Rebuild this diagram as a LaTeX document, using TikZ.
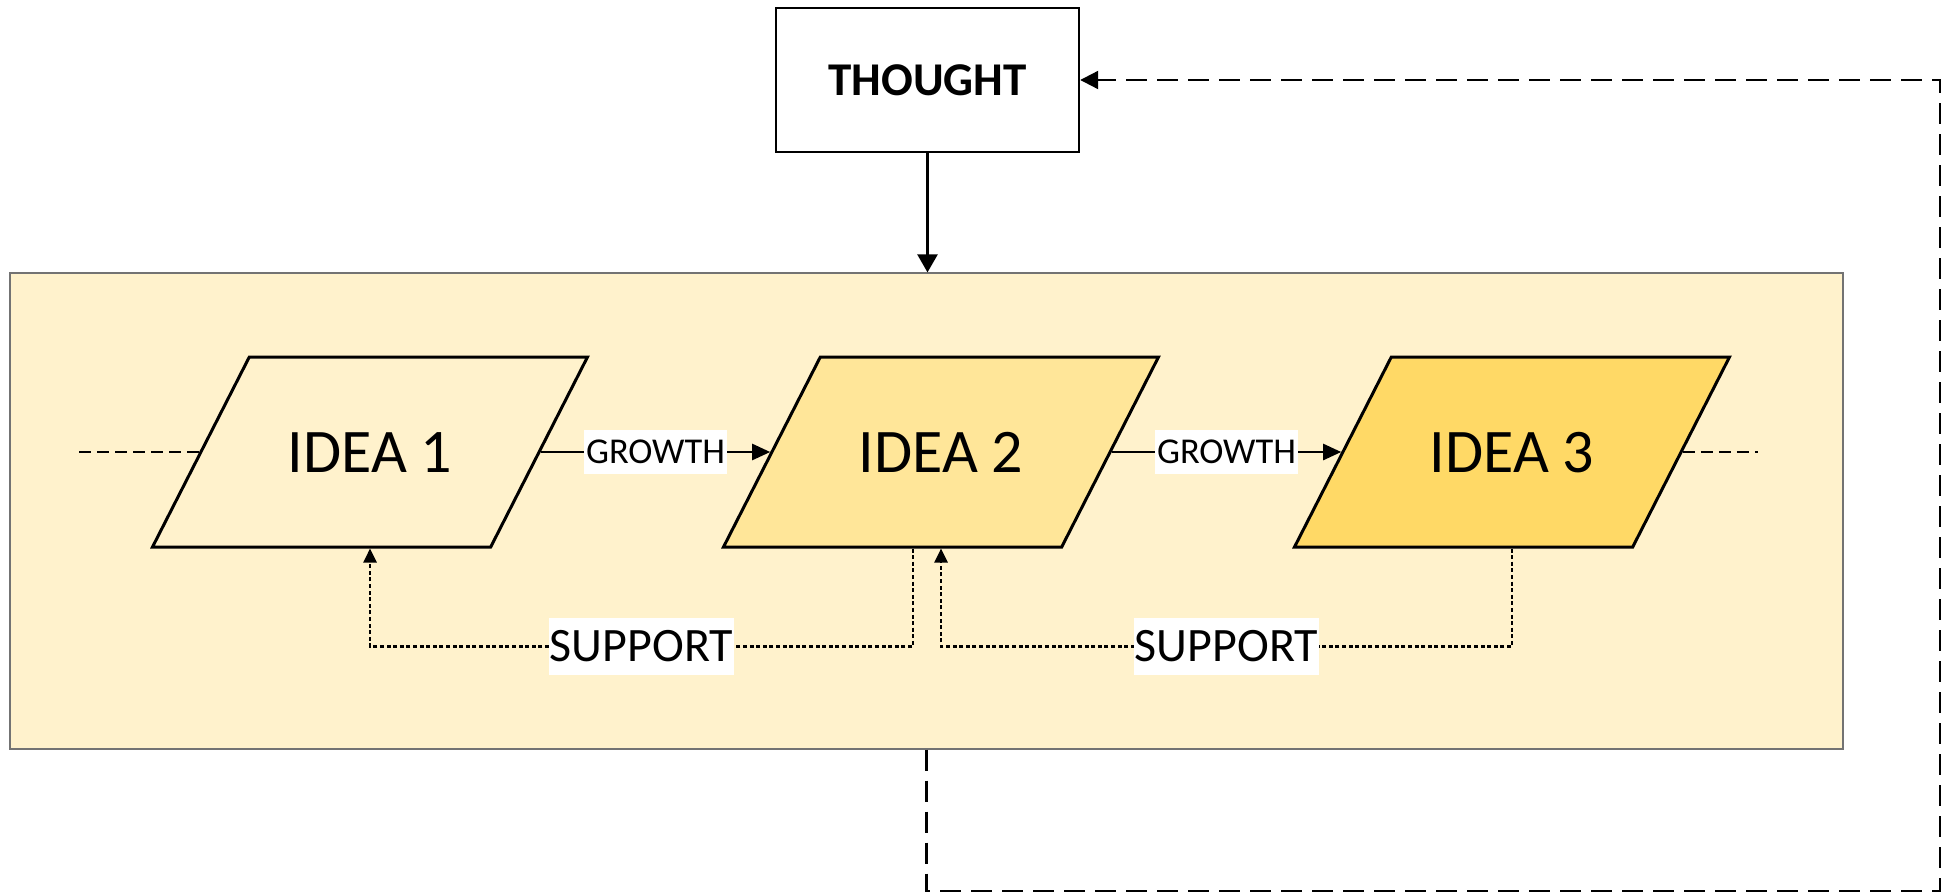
\documentclass[tikz,border=0pt]{standalone}
\usepackage{fontspec}
\setmainfont{Carlito}
\usetikzlibrary{arrows.meta,positioning,shapes.geometric}

\definecolor{goldA}{HTML}{FFF2CC}
\definecolor{goldB}{HTML}{FFE699}
\definecolor{goldC}{HTML}{FFD966}

\begin{document}
\begin{tikzpicture}[x=0.5pt,y=-0.5pt,node distance=285.5pt,
                    >={Triangle[length=9pt,width=8pt]},line width=1.2pt]
  \tikzstyle{idea}=[draw,trapezium,trapezium left angle=63,trapezium right angle=117,
                    trapezium stretches body=true,minimum width=217.5pt,
                    text height=20pt,text depth=0pt,inner xsep=0pt,inner ysep=37.5pt,
                    line width=1.5pt,font=\fontsize{31}{31}\selectfont]
  \tikzstyle{growlbl}=[fill=white,inner xsep=1pt,inner ysep=0pt,minimum height=22pt,
                       font=\fontsize{18.2}{18.2}\selectfont]
  \tikzstyle{suplbl}=[fill=white,inner xsep=0.5pt,inner ysep=0pt,minimum height=28.5pt,
                      font=\fontsize{24}{24}\selectfont]
  \tikzstyle{supline}=[dash pattern=on 2pt off 1.3pt,line width=1.3pt,
                       >={Triangle[length=7pt,width=6.5pt]}]
  \tikzstyle{openend}=[dash pattern=on 6pt off 3pt,line width=1.3pt]
  \tikzstyle{loopback}=[dash pattern=on 10.5pt off 5pt,line width=1.1pt,
                        >={Triangle[length=9pt,width=9pt]}]

  \useasboundingbox (0,0) rectangle (1955,894);

  % frame and the three ideas
  \node[draw=black!55,line width=0.6pt,fill=goldA,minimum width=916.5pt,minimum height=238pt,
        inner sep=0pt] (stage) at (926.5,511) {};
  \node[draw,minimum width=151.5pt,minimum height=72pt,
        font=\bfseries\fontsize{23.5}{23.5}\selectfont] (thought) at (927.5,80) {THOUGHT};

  \node[idea,fill=goldA] (idea1) at (370,452) {IDEA 1};
  \node[idea,fill=goldB] (idea2) [right of=idea1] {IDEA 2};
  \node[idea,fill=goldC] (idea3) [right of=idea2] {IDEA 3};

  \coordinate (inL) at (79,452);
  \coordinate (outR) at (1758,452);
  \coordinate (fbcorner) at (1940,891);

  \draw[->,>={Triangle[length=9pt,width=10pt]}] (thought) -- (thought |- stage.north);

  \draw[openend] (inL) -- (idea1.left side);
  \draw[openend] (idea3.right side) -- (outR);

  \path[draw,->] (idea1.right side) -- node[growlbl] {GROWTH} (idea2.left side);
  \path[draw,->] (idea2.right side) -- node[growlbl] {GROWTH} (idea3.left side);

  \draw[supline,->] ([xshift=-14pt]idea2.south) -- ++(0,98) -| node[pos=0.25,suplbl] {SUPPORT} (idea1.south);
  \draw[supline,->] (idea3.south) -- ++(0,98) -| node[pos=0.25,suplbl] {SUPPORT} (idea2.south);

  % back to the thought
  \draw[loopback,->] (stage.south) |- (fbcorner) |- (thought.east);

\end{tikzpicture}
\end{document}
